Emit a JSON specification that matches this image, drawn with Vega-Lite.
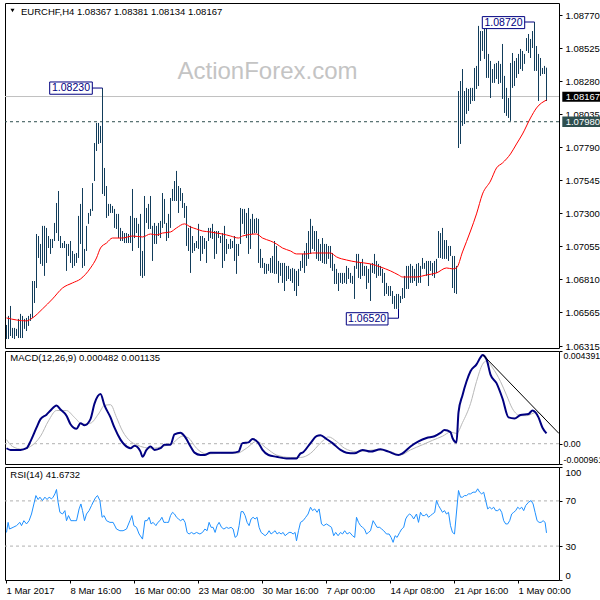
{
"$schema": "https://vega.github.io/schema/vega-lite/v6.json",
"padding": {"left": 2, "top": 2, "right": 0, "bottom": 0},
"background": "white",
"spacing": 3,
"bounds": "flush",
"config": {
  "view": {"stroke": "#000000", "strokeWidth": 1},
  "axis": {"labelFont": "Liberation Sans", "labelFontSize": 9.5, "labelColor": "#000000", "tickColor": "#000000", "domain": false, "grid": false, "title": null, "tickSize": 3, "labelPadding": 3},
  "text": {"font": "Liberation Sans"}
},
"datasets": {
"bars": [
{"i":0,"h":1.06472,"l":1.06368},{"i":1,"h":1.06539,"l":1.06368},{"i":2,"h":1.06613,"l":1.0639},{"i":3,"h":1.0645,"l":1.06375},{"i":4,"h":1.0645,"l":1.06368},{"i":5,"h":1.06443,"l":1.0639},{"i":6,"h":1.06517,"l":1.06375},{"i":7,"h":1.06554,"l":1.06375},{"i":8,"h":1.06539,"l":1.06375},{"i":9,"h":1.06517,"l":1.06443},
{"i":10,"h":1.06524,"l":1.06427},{"i":11,"h":1.06539,"l":1.06465},{"i":12,"h":1.06554,"l":1.06502},{"i":13,"h":1.06798,"l":1.06524},{"i":14,"h":1.06798,"l":1.06635},{"i":15,"h":1.07147,"l":1.06746},{"i":16,"h":1.07132,"l":1.06969},{"i":17,"h":1.07073,"l":1.06925},{"i":18,"h":1.07207,"l":1.0691},{"i":19,"h":1.07207,"l":1.06836},
{"i":20,"h":1.07192,"l":1.06932},{"i":21,"h":1.07132,"l":1.07043},{"i":22,"h":1.0711,"l":1.06999},{"i":23,"h":1.0711,"l":1.07043},{"i":24,"h":1.07229,"l":1.07095},{"i":25,"h":1.07377,"l":1.07154},{"i":26,"h":1.07466,"l":1.07095},{"i":27,"h":1.07132,"l":1.07043},{"i":28,"h":1.0708,"l":1.07043},{"i":29,"h":1.07095,"l":1.07043},
{"i":30,"h":1.07073,"l":1.06873},{"i":31,"h":1.07073,"l":1.06984},{"i":32,"h":1.07095,"l":1.06932},{"i":33,"h":1.07021,"l":1.06895},{"i":34,"h":1.06999,"l":1.0691},{"i":35,"h":1.07006,"l":1.06932},{"i":36,"h":1.07281,"l":1.06969},{"i":37,"h":1.0737,"l":1.07073},{"i":38,"h":1.07488,"l":1.06895},{"i":39,"h":1.07036,"l":1.0691},
{"i":40,"h":1.07207,"l":1.07021},{"i":41,"h":1.07303,"l":1.07222},{"i":42,"h":1.07333,"l":1.07281},{"i":43,"h":1.07525,"l":1.07318},{"i":44,"h":1.07822,"l":1.0754},{"i":45,"h":1.07971,"l":1.07763},{"i":46,"h":1.07971,"l":1.07815},{"i":47,"h":1.07949,"l":1.07822},{"i":48,"h":1.0823,"l":1.07444},{"i":49,"h":1.07637,"l":1.07429},
{"i":50,"h":1.07503,"l":1.07266},{"i":51,"h":1.0737,"l":1.07281},{"i":52,"h":1.0737,"l":1.07303},{"i":53,"h":1.07355,"l":1.07303},{"i":54,"h":1.07333,"l":1.07192},{"i":55,"h":1.07296,"l":1.07184},{"i":56,"h":1.07296,"l":1.07117},{"i":57,"h":1.07192,"l":1.07095},{"i":58,"h":1.07169,"l":1.07095},{"i":59,"h":1.07154,"l":1.0708},
{"i":60,"h":1.07154,"l":1.0708},{"i":61,"h":1.07147,"l":1.0708},{"i":62,"h":1.07281,"l":1.0708},{"i":63,"h":1.07481,"l":1.07021},{"i":64,"h":1.07266,"l":1.07117},{"i":65,"h":1.07266,"l":1.07154},{"i":66,"h":1.07222,"l":1.07043},{"i":67,"h":1.07296,"l":1.06836},{"i":68,"h":1.07021,"l":1.06821},{"i":69,"h":1.07429,"l":1.06836},
{"i":70,"h":1.0734,"l":1.07229},{"i":71,"h":1.0737,"l":1.07184},{"i":72,"h":1.07429,"l":1.07184},{"i":73,"h":1.07207,"l":1.06947},{"i":74,"h":1.07229,"l":1.07073},{"i":75,"h":1.07207,"l":1.07073},{"i":76,"h":1.07229,"l":1.07132},{"i":77,"h":1.07244,"l":1.07117},{"i":78,"h":1.07451,"l":1.07192},{"i":79,"h":1.07407,"l":1.07222},
{"i":80,"h":1.07229,"l":1.07095},{"i":81,"h":1.07296,"l":1.07117},{"i":82,"h":1.07414,"l":1.07192},{"i":83,"h":1.07481,"l":1.07392},{"i":84,"h":1.0754,"l":1.07392},{"i":85,"h":1.07615,"l":1.07392},{"i":86,"h":1.07503,"l":1.07303},{"i":87,"h":1.07488,"l":1.07392},{"i":88,"h":1.07451,"l":1.0734},{"i":89,"h":1.07377,"l":1.07266},
{"i":90,"h":1.07355,"l":1.07058},{"i":91,"h":1.07192,"l":1.07021},{"i":92,"h":1.07207,"l":1.06858},{"i":93,"h":1.07132,"l":1.07006},{"i":94,"h":1.0708,"l":1.07021},{"i":95,"h":1.07095,"l":1.07043},{"i":96,"h":1.07222,"l":1.07036},{"i":97,"h":1.07132,"l":1.06947},{"i":98,"h":1.07132,"l":1.06999},{"i":99,"h":1.07117,"l":1.07036},
{"i":100,"h":1.07095,"l":1.06932},{"i":101,"h":1.07192,"l":1.07095},{"i":102,"h":1.07192,"l":1.07117},{"i":103,"h":1.07222,"l":1.0711},{"i":104,"h":1.07169,"l":1.06962},{"i":105,"h":1.07169,"l":1.06999},{"i":106,"h":1.07169,"l":1.07117},{"i":107,"h":1.07132,"l":1.0708},{"i":108,"h":1.07154,"l":1.06895},{"i":109,"h":1.07207,"l":1.06947},
{"i":110,"h":1.0711,"l":1.06999},{"i":111,"h":1.07073,"l":1.07036},{"i":112,"h":1.0711,"l":1.07036},{"i":113,"h":1.07095,"l":1.07043},{"i":114,"h":1.07132,"l":1.06947},{"i":115,"h":1.07073,"l":1.06851},{"i":116,"h":1.07073,"l":1.06984},{"i":117,"h":1.0734,"l":1.07073},{"i":118,"h":1.07333,"l":1.07222},{"i":119,"h":1.07333,"l":1.07147},
{"i":120,"h":1.07303,"l":1.07117},{"i":121,"h":1.0734,"l":1.06999},{"i":122,"h":1.07259,"l":1.07036},{"i":123,"h":1.07296,"l":1.07147},{"i":124,"h":1.07259,"l":1.07154},{"i":125,"h":1.07266,"l":1.07154},{"i":126,"h":1.07259,"l":1.06932},{"i":127,"h":1.07036,"l":1.06895},{"i":128,"h":1.06969,"l":1.06895},{"i":129,"h":1.06932,"l":1.06851},
{"i":130,"h":1.06925,"l":1.06851},{"i":131,"h":1.06925,"l":1.06873},{"i":132,"h":1.06969,"l":1.06858},{"i":133,"h":1.06984,"l":1.06858},{"i":134,"h":1.07095,"l":1.06851},{"i":135,"h":1.07058,"l":1.06851},{"i":136,"h":1.06947,"l":1.06784},{"i":137,"h":1.06932,"l":1.06836},{"i":138,"h":1.06932,"l":1.06784},{"i":139,"h":1.06932,"l":1.06724},
{"i":140,"h":1.0691,"l":1.06798},{"i":141,"h":1.0691,"l":1.06813},{"i":142,"h":1.06888,"l":1.06798},{"i":143,"h":1.06895,"l":1.06784},{"i":144,"h":1.06888,"l":1.06724},{"i":145,"h":1.06873,"l":1.06687},{"i":146,"h":1.06888,"l":1.06761},{"i":147,"h":1.06947,"l":1.06873},{"i":148,"h":1.06999,"l":1.06895},{"i":149,"h":1.07021,"l":1.06858},
{"i":150,"h":1.0708,"l":1.0691},{"i":151,"h":1.07169,"l":1.06962},{"i":152,"h":1.07259,"l":1.06999},{"i":153,"h":1.07207,"l":1.07036},{"i":154,"h":1.07169,"l":1.07021},{"i":155,"h":1.07169,"l":1.06962},{"i":156,"h":1.0711,"l":1.06947},{"i":157,"h":1.07073,"l":1.06947},{"i":158,"h":1.07117,"l":1.06932},{"i":159,"h":1.07073,"l":1.06925},
{"i":160,"h":1.07073,"l":1.06925},{"i":161,"h":1.07058,"l":1.06962},{"i":162,"h":1.07058,"l":1.06895},{"i":163,"h":1.07006,"l":1.06873},{"i":164,"h":1.06925,"l":1.06776},{"i":165,"h":1.06888,"l":1.06776},{"i":166,"h":1.06858,"l":1.06724},{"i":167,"h":1.06858,"l":1.06784},{"i":168,"h":1.06858,"l":1.06776},{"i":169,"h":1.06858,"l":1.06784},
{"i":170,"h":1.0691,"l":1.06776},{"i":171,"h":1.06895,"l":1.06813},{"i":172,"h":1.06858,"l":1.06784},{"i":173,"h":1.06836,"l":1.06776},{"i":174,"h":1.0691,"l":1.06665},{"i":175,"h":1.06999,"l":1.06888},{"i":176,"h":1.06999,"l":1.06821},{"i":177,"h":1.06932,"l":1.06813},{"i":178,"h":1.06962,"l":1.06836},{"i":179,"h":1.0691,"l":1.06836},
{"i":180,"h":1.0691,"l":1.06739},{"i":181,"h":1.06888,"l":1.06784},{"i":182,"h":1.06925,"l":1.0665},{"i":183,"h":1.06932,"l":1.06858},{"i":184,"h":1.06999,"l":1.06851},{"i":185,"h":1.06947,"l":1.06821},{"i":186,"h":1.06925,"l":1.06836},{"i":187,"h":1.0691,"l":1.06836},{"i":188,"h":1.06888,"l":1.06784},{"i":189,"h":1.06858,"l":1.06687},
{"i":190,"h":1.06784,"l":1.06702},{"i":191,"h":1.06761,"l":1.06687},{"i":192,"h":1.06761,"l":1.06687},{"i":193,"h":1.06724,"l":1.06628},{"i":194,"h":1.06687,"l":1.06591},{"i":195,"h":1.06702,"l":1.06591},{"i":196,"h":1.06702,"l":1.06591},{"i":197,"h":1.06687,"l":1.06635},{"i":198,"h":1.06746,"l":1.06665},{"i":199,"h":1.06836,"l":1.06672},
{"i":200,"h":1.0691,"l":1.06739},{"i":201,"h":1.0691,"l":1.06739},{"i":202,"h":1.06925,"l":1.06784},{"i":203,"h":1.0691,"l":1.06784},{"i":204,"h":1.06888,"l":1.06798},{"i":205,"h":1.06925,"l":1.06761},{"i":206,"h":1.06932,"l":1.06784},{"i":207,"h":1.0691,"l":1.06784},{"i":208,"h":1.06969,"l":1.06888},{"i":209,"h":1.06932,"l":1.06888},
{"i":210,"h":1.06947,"l":1.06836},{"i":211,"h":1.06947,"l":1.06761},{"i":212,"h":1.06947,"l":1.06873},{"i":213,"h":1.06932,"l":1.06836},{"i":214,"h":1.06947,"l":1.06821},{"i":215,"h":1.06962,"l":1.06858},{"i":216,"h":1.07169,"l":1.06969},{"i":217,"h":1.07154,"l":1.06969},{"i":218,"h":1.07192,"l":1.06962},{"i":219,"h":1.07102,"l":1.06962},
{"i":220,"h":1.07102,"l":1.06962},{"i":221,"h":1.07058,"l":1.06947},{"i":222,"h":1.07058,"l":1.06984},{"i":223,"h":1.06984,"l":1.06746},{"i":224,"h":1.06984,"l":1.06709},{"i":225,"h":1.0691,"l":1.06702},{"i":226,"h":1.08208,"l":1.07785},{"i":227,"h":1.08282,"l":1.07815},{"i":228,"h":1.08371,"l":1.07949},{"i":229,"h":1.08208,"l":1.07963},
{"i":230,"h":1.08231,"l":1.08038},{"i":231,"h":1.08223,"l":1.0806},{"i":232,"h":1.08231,"l":1.08112},{"i":233,"h":1.08231,"l":1.08134},{"i":234,"h":1.08379,"l":1.08134},{"i":235,"h":1.08394,"l":1.08223},{"i":236,"h":1.08691,"l":1.08245},{"i":237,"h":1.08653,"l":1.08431},{"i":238,"h":1.08653,"l":1.08505},{"i":239,"h":1.08668,"l":1.08446},
{"i":240,"h":1.08691,"l":1.08305},{"i":241,"h":1.08483,"l":1.08305},{"i":242,"h":1.08431,"l":1.08156},{"i":243,"h":1.08371,"l":1.08268},{"i":244,"h":1.08409,"l":1.08268},{"i":245,"h":1.08416,"l":1.08297},{"i":246,"h":1.08431,"l":1.0826},{"i":247,"h":1.08409,"l":1.08268},{"i":248,"h":1.08557,"l":1.08149},{"i":249,"h":1.0832,"l":1.08045},
{"i":250,"h":1.08231,"l":1.08023},{"i":251,"h":1.08156,"l":1.08008},{"i":252,"h":1.08416,"l":1.07986},{"i":253,"h":1.0849,"l":1.08231},{"i":254,"h":1.08431,"l":1.08245},{"i":255,"h":1.08453,"l":1.08305},{"i":256,"h":1.08483,"l":1.08334},{"i":257,"h":1.0852,"l":1.08371},{"i":258,"h":1.08505,"l":1.08357},{"i":259,"h":1.08483,"l":1.08409},
{"i":260,"h":1.08601,"l":1.08505},{"i":261,"h":1.08631,"l":1.0849},{"i":262,"h":1.08594,"l":1.08453},{"i":263,"h":1.08653,"l":1.08527},{"i":264,"h":1.0872,"l":1.08357},{"i":265,"h":1.08542,"l":1.08357},{"i":266,"h":1.08483,"l":1.08134},{"i":267,"h":1.08453,"l":1.0832},{"i":268,"h":1.08379,"l":1.08334},{"i":269,"h":1.08394,"l":1.08334},
{"i":270,"h":1.08381,"l":1.08134}
],
"ma": [
{"i":0,"p":1.06524},{"i":5,"p":1.06509},{"i":10,"p":1.06502},{"i":13,"p":1.06524},{"i":18,"p":1.06591},{"i":23,"p":1.06665},{"i":28,"p":1.06746},{"i":33,"p":1.06784},{"i":37,"p":1.06813},{"i":42,"p":1.06895},{"i":45,"p":1.06969},{"i":47,"p":1.07043},{"i":50,"p":1.0708},{"i":53,"p":1.07117},{"i":58,"p":1.07117},{"i":63,"p":1.07132},{"i":68,"p":1.07125},{"i":72,"p":1.07147},{"i":75,"p":1.0714},{"i":78,"p":1.07154},{"i":82,"p":1.07162},{"i":85,"p":1.07192},{"i":89,"p":1.07222},{"i":92,"p":1.07199},{"i":95,"p":1.07184},{"i":98,"p":1.07169},{"i":102,"p":1.07162},{"i":105,"p":1.07154},{"i":108,"p":1.07147},{"i":112,"p":1.07132},{"i":116,"p":1.07117},{"i":118,"p":1.07132},{"i":125,"p":1.07147},{"i":128,"p":1.07117},{"i":132,"p":1.07095},{"i":135,"p":1.07073},{"i":138,"p":1.07043},{"i":142,"p":1.07021},{"i":145,"p":1.06999},{"i":150,"p":1.06999},{"i":153,"p":1.07006},{"i":158,"p":1.07006},{"i":162,"p":1.07006},{"i":165,"p":1.06977},{"i":170,"p":1.06954},{"i":175,"p":1.06939},{"i":182,"p":1.06925},{"i":187,"p":1.06902},{"i":192,"p":1.06873},{"i":196,"p":1.06843},{"i":198,"p":1.06828},{"i":205,"p":1.06828},{"i":210,"p":1.06843},{"i":215,"p":1.06858},{"i":220,"p":1.06895},{"i":223,"p":1.06888},{"i":225,"p":1.06895},{"i":228,"p":1.07014},{"i":232,"p":1.07169},{"i":235,"p":1.07296},{"i":238,"p":1.07444},{"i":242,"p":1.0754},{"i":245,"p":1.07637},{"i":248,"p":1.07674},{"i":252,"p":1.07741},{"i":255,"p":1.07815},{"i":258,"p":1.07889},{"i":262,"p":1.08008},{"i":265,"p":1.08082},{"i":270,"p":1.08141}
],
"macd": [
{"i":0,"m":-0.000214},{"i":2,"m":-0.000292},{"i":7,"m":-0.000292},{"i":10,"m":-0.000214},{"i":12,"m":0.000112},{"i":15,"m":0.000759},{"i":17,"m":0.001167},{"i":20,"m":0.001376},{"i":22,"m":0.001571},{"i":25,"m":0.001814},{"i":27,"m":0.001619},{"i":30,"m":0.001328},{"i":32,"m":0.000924},{"i":35,"m":0.00071},{"i":37,"m":0.000973},{"i":39,"m":0.000875},{"i":42,"m":0.001167},{"i":44,"m":0.001897},{"i":47,"m":0.002349},{"i":49,"m":0.001814},{"i":52,"m":0.001245},{"i":54,"m":0.000759},{"i":57,"m":0.000195},{"i":59,"m":-0.000049},{"i":62,"m":-0.000214},{"i":64,"m":-0.000097},{"i":67,"m":-0.000374},{"i":68,"m":-0.000618},{"i":70,"m":-0.000292},{"i":72,"m":-0.000131},{"i":74,"m":-0.000292},{"i":77,"m":-0.000214},{"i":79,"m":-0.000049},{"i":82,"m":-0.000049},{"i":84,"m":0.000438},{"i":87,"m":0.000515},{"i":89,"m":0.000355},{"i":92,"m":-0.000131},{"i":94,"m":-0.000423},{"i":97,"m":-0.000535},{"i":99,"m":-0.000535},{"i":102,"m":-0.000423},{"i":107,"m":-0.000423},{"i":113,"m":-0.000423},{"i":116,"m":-0.000374},{"i":118,"m":0.000029},{"i":121,"m":0.000063},{"i":123,"m":0.000224},{"i":126,"m":0.000029},{"i":128,"m":-0.000292},{"i":131,"m":-0.000535},{"i":135,"m":-0.000618},{"i":140,"m":-0.0007},{"i":145,"m":-0.0007},{"i":147,"m":-0.000457},{"i":148,"m":-0.000423},{"i":152,"m":0.000029},{"i":155,"m":0.000355},{"i":157,"m":0.000404},{"i":160,"m":0.000224},{"i":163,"m":0.000029},{"i":167,"m":-0.000292},{"i":170,"m":-0.000423},{"i":174,"m":-0.000457},{"i":178,"m":-0.000292},{"i":182,"m":-0.000374},{"i":187,"m":-0.000263},{"i":191,"m":-0.000374},{"i":196,"m":-0.000535},{"i":198,"m":-0.000457},{"i":202,"m":-0.000131},{"i":206,"m":0.000112},{"i":210,"m":0.000272},{"i":214,"m":0.000355},{"i":217,"m":0.000515},{"i":219,"m":0.000647},{"i":222,"m":0.00055},{"i":223,"m":0.000272},{"i":225,"m":0.000063},{"i":226,"m":0.001488},{"i":228,"m":0.0023},{"i":230,"m":0.002947},{"i":232,"m":0.003433},{"i":235,"m":0.003759},{"i":237,"m":0.004085},{"i":238,"m":0.004197},{"i":240,"m":0.004002},{"i":242,"m":0.003273},{"i":245,"m":0.002869},{"i":248,"m":0.00214},{"i":251,"m":0.001245},{"i":254,"m":0.001196},{"i":257,"m":0.001362},{"i":261,"m":0.00141},{"i":263,"m":0.001571},{"i":266,"m":0.001245},{"i":268,"m":0.000759},{"i":270,"m":0.000486}
],
"sig": [
{"i":0,"s":0.000195},{"i":3,"s":-0.000131},{"i":8,"s":-0.000263},{"i":12,"s":-0.000131},{"i":17,"s":0.000355},{"i":21,"s":0.001084},{"i":25,"s":0.001571},{"i":30,"s":0.001571},{"i":34,"s":0.001245},{"i":38,"s":0.000924},{"i":42,"s":0.000973},{"i":46,"s":0.00141},{"i":49,"s":0.001814},{"i":52,"s":0.001848},{"i":55,"s":0.001245},{"i":58,"s":0.000598},{"i":62,"s":0.000112},{"i":65,"s":-0.000049},{"i":69,"s":-0.00018},{"i":73,"s":-0.000214},{"i":78,"s":-0.000131},{"i":83,"s":0.000029},{"i":88,"s":0.000355},{"i":91,"s":0.000272},{"i":95,"s":-0.000214},{"i":100,"s":-0.000486},{"i":107,"s":-0.000457},{"i":115,"s":-0.000457},{"i":120,"s":-0.000214},{"i":125,"s":0.000112},{"i":130,"s":-0.000214},{"i":135,"s":-0.000535},{"i":142,"s":-0.000652},{"i":147,"s":-0.000652},{"i":152,"s":-0.000457},{"i":157,"s":0.000029},{"i":161,"s":0.000321},{"i":165,"s":0.000112},{"i":169,"s":-0.000214},{"i":175,"s":-0.000374},{"i":185,"s":-0.000292},{"i":192,"s":-0.000374},{"i":197,"s":-0.000535},{"i":202,"s":-0.000292},{"i":208,"s":-0.000049},{"i":213,"s":0.00016},{"i":218,"s":0.000355},{"i":222,"s":0.00055},{"i":225,"s":0.000486},{"i":228,"s":0.001002},{"i":232,"s":0.001897},{"i":235,"s":0.002947},{"i":238,"s":0.003759},{"i":240,"s":0.00392},{"i":243,"s":0.003599},{"i":247,"s":0.002947},{"i":250,"s":0.0023},{"i":253,"s":0.001653},{"i":257,"s":0.001328},{"i":260,"s":0.001328},{"i":265,"s":0.001488},{"i":269,"s":0.001196}
],
"rsi": [
{"i":0,"r":42.1},{"i":0.8,"r":51},{"i":1.5,"r":45.1},{"i":3.3,"r":46.6},{"i":5,"r":48.1},{"i":6.7,"r":51},{"i":7.5,"r":48.1},{"i":8.7,"r":52.5},{"i":10,"r":49.6},{"i":11.3,"r":52.5},{"i":12.5,"r":58.4},{"i":13.7,"r":67.3},{"i":14.7,"r":74.7},{"i":15.8,"r":71.2},{"i":16.7,"r":73.3},{"i":18,"r":70.3},{"i":19.2,"r":73.3},{"i":20.3,"r":71.2},{"i":21.3,"r":73.3},{"i":22.5,"r":71.8},{"i":23.3,"r":73.3},{"i":24.2,"r":76.2},{"i":25,"r":80.1},{"i":25.8,"r":68.8},{"i":26.7,"r":59.9},{"i":28,"r":58.4},{"i":29.2,"r":61.4},{"i":30,"r":52.5},{"i":31,"r":57},{"i":32.2,"r":52.5},{"i":34.2,"r":52.5},{"i":35,"r":52.5},{"i":36.3,"r":62.9},{"i":37.2,"r":67.3},{"i":38,"r":61.4},{"i":39,"r":52.5},{"i":40,"r":58.4},{"i":41.3,"r":61.4},{"i":42.5,"r":65.9},{"i":43.7,"r":70.3},{"i":44.7,"r":73.3},{"i":45.5,"r":74.7},{"i":46.7,"r":70.3},{"i":47.8,"r":55.5},{"i":48.8,"r":57},{"i":50,"r":52.5},{"i":51.7,"r":51},{"i":53.3,"r":51},{"i":55,"r":45.1},{"i":56.7,"r":43.6},{"i":58.3,"r":43.6},{"i":60,"r":45.1},{"i":61.7,"r":52.5},{"i":62.7,"r":57},{"i":63.7,"r":48.1},{"i":65,"r":46.6},{"i":66.3,"r":40.7},{"i":68,"r":36.2},{"i":69.2,"r":52.5},{"i":70.3,"r":52.5},{"i":71.3,"r":55.5},{"i":72.3,"r":49.6},{"i":73.3,"r":51},{"i":74.7,"r":48.1},{"i":75.7,"r":51},{"i":76.7,"r":52.5},{"i":77.7,"r":55.5},{"i":78.7,"r":51},{"i":80,"r":51},{"i":81,"r":51},{"i":82,"r":57},{"i":83,"r":59.9},{"i":84,"r":58.4},{"i":85,"r":55.5},{"i":86,"r":54},{"i":87,"r":52.5},{"i":88.3,"r":54},{"i":89.3,"r":51},{"i":90.3,"r":42.1},{"i":91.3,"r":40.7},{"i":92.5,"r":42.1},{"i":93.7,"r":40.7},{"i":95,"r":42.1},{"i":96.7,"r":40.7},{"i":98,"r":42.1},{"i":99.2,"r":45.1},{"i":100.3,"r":43.6},{"i":101.3,"r":51},{"i":102.3,"r":46.6},{"i":103.3,"r":46.6},{"i":104.3,"r":42.1},{"i":105.3,"r":48.1},{"i":106.3,"r":51},{"i":107.5,"r":46.6},{"i":108.7,"r":45.1},{"i":110,"r":46.6},{"i":111,"r":45.7},{"i":112.3,"r":46.6},{"i":113.3,"r":45.1},{"i":114.3,"r":37.7},{"i":115.3,"r":39.2},{"i":116.3,"r":48.1},{"i":117.3,"r":60.5},{"i":118.3,"r":60.5},{"i":119.3,"r":57},{"i":120.3,"r":51},{"i":121.3,"r":48.1},{"i":122.3,"r":54},{"i":123.3,"r":55.5},{"i":124.3,"r":54},{"i":125.3,"r":55.5},{"i":126.3,"r":46.6},{"i":127.3,"r":42.1},{"i":128.3,"r":40.7},{"i":129.3,"r":39.2},{"i":130.3,"r":40.7},{"i":131.3,"r":43.6},{"i":132.3,"r":40.7},{"i":133.3,"r":42.1},{"i":134.3,"r":43.6},{"i":135.3,"r":40.7},{"i":136.3,"r":42.1},{"i":137.3,"r":40.7},{"i":138.3,"r":42.1},{"i":139.3,"r":39.2},{"i":140.3,"r":40.7},{"i":141.3,"r":42.1},{"i":142.3,"r":42.1},{"i":143.3,"r":40.7},{"i":144.3,"r":42.1},{"i":145,"r":34.7},{"i":146,"r":43.6},{"i":147,"r":51},{"i":148.3,"r":52.5},{"i":149.6,"r":55.5},{"i":150.8,"r":58.4},{"i":152,"r":64.4},{"i":153,"r":61.4},{"i":154.1,"r":62.9},{"i":155.3,"r":59.9},{"i":156.3,"r":62.9},{"i":157.5,"r":49.6},{"i":158.6,"r":48.1},{"i":160,"r":49.6},{"i":161.3,"r":48.1},{"i":162.5,"r":46.6},{"i":163.6,"r":39.2},{"i":164.6,"r":42.1},{"i":165.8,"r":39.2},{"i":167,"r":42.1},{"i":168,"r":40.7},{"i":169.1,"r":43.6},{"i":170.3,"r":40.7},{"i":171.6,"r":42.1},{"i":173,"r":39.2},{"i":174.1,"r":37.7},{"i":175,"r":55.5},{"i":176,"r":51},{"i":177,"r":48.1},{"i":178,"r":46.6},{"i":179,"r":45.1},{"i":180,"r":40.7},{"i":181,"r":42.1},{"i":182,"r":43.6},{"i":183.3,"r":52.5},{"i":184.3,"r":49.6},{"i":185.3,"r":46.6},{"i":186.6,"r":46.6},{"i":187.6,"r":45.1},{"i":188.6,"r":43.6},{"i":190,"r":40.7},{"i":191.3,"r":40.7},{"i":192.3,"r":37.7},{"i":193.3,"r":33.3},{"i":194.3,"r":39.2},{"i":195.3,"r":37.7},{"i":196.6,"r":42.1},{"i":197.6,"r":45.1},{"i":198.6,"r":46.6},{"i":199.6,"r":54},{"i":200.6,"r":57},{"i":201.6,"r":58.4},{"i":202.6,"r":57},{"i":203.6,"r":54},{"i":205,"r":58.4},{"i":206,"r":51},{"i":207,"r":59.9},{"i":208,"r":57},{"i":209,"r":57},{"i":210,"r":58.4},{"i":211,"r":55.5},{"i":212,"r":57},{"i":213,"r":58.4},{"i":214.1,"r":59.9},{"i":215,"r":70.3},{"i":216,"r":65.9},{"i":217,"r":62.9},{"i":218,"r":59.9},{"i":219,"r":61.4},{"i":220,"r":58.4},{"i":221,"r":59.9},{"i":222,"r":48.1},{"i":223,"r":42.1},{"i":224,"r":40.7},{"i":226,"r":79.2},{"i":227,"r":73.3},{"i":228,"r":73.3},{"i":229,"r":74.7},{"i":230,"r":74.7},{"i":231,"r":76.2},{"i":232,"r":76.2},{"i":233.3,"r":77.7},{"i":234.6,"r":77.7},{"i":235.6,"r":80.7},{"i":236.6,"r":77.7},{"i":237.6,"r":76.2},{"i":238.6,"r":77.7},{"i":239.6,"r":70.3},{"i":240.6,"r":62.9},{"i":241.6,"r":64.4},{"i":242.6,"r":62.9},{"i":243.6,"r":64.4},{"i":244.6,"r":61.4},{"i":245.6,"r":61.4},{"i":246.6,"r":62.9},{"i":247.6,"r":59.9},{"i":248.6,"r":52.5},{"i":249.6,"r":49.6},{"i":250.6,"r":49.6},{"i":251.6,"r":52.5},{"i":252.6,"r":58.4},{"i":253.6,"r":59.9},{"i":254.6,"r":61.4},{"i":255.6,"r":64.4},{"i":256.6,"r":62.9},{"i":257.6,"r":64.4},{"i":258.6,"r":61.4},{"i":259.6,"r":65.9},{"i":261,"r":68.8},{"i":262.3,"r":70.3},{"i":263.3,"r":67.3},{"i":264.3,"r":59.9},{"i":265.3,"r":52.5},{"i":266.3,"r":51},{"i":267.3,"r":51},{"i":268.3,"r":52.5},{"i":269.3,"r":51},{"i":270,"r":41.7}
],
"boxes": [
{"i":21.6,"i2":42.9,"p":1.08275,"p2":1.08184,"c":32.25,"pc":1.0823,"t":"1.08230"},
{"i":169.9,"i2":190.75,"p":1.06563,"p2":1.06472,"c":180.3,"pc":1.06518,"t":"1.06520"},
{"i":237.9,"i2":259.1,"p":1.0876,"p2":1.08671,"c":248.5,"pc":1.08716,"t":"1.08720"}
],
"conn": [
{"i":42.9,"i2":48,"p":1.0823,"p2":1.0823},
{"i":190.75,"i2":196,"p":1.06522,"p2":1.06522},
{"i":196,"i2":196,"p":1.06522,"p2":1.06591},
{"i":259.1,"i2":264,"p":1.0872,"p2":1.0872}
],
"hl": [
{"i":277.9,"i2":298.25,"p":1.08203,"p2":1.08129,"bg":"#000000","tx":279.6,"pc":1.08166,"t":"1.08167"},
{"i":277.9,"i2":298.25,"p":1.08018,"p2":1.07941,"bg":"#2F4F4F","tx":279.6,"pc":1.07979,"t":"1.07980"}
]
},
"vconcat": [
{
"width": 554, "height": 345,
"layer": [
{"data": {"values": [{"p": 1.0798}]}, "mark": {"type": "rule", "color": "#2F4F4F", "strokeDash": [3, 3], "strokeWidth": 1},
 "encoding": {"y": {"field": "p", "type": "quantitative", "scale": {"domain": [1.06301, 1.08861], "nice": false, "zero": false},
   "axis": {"orient": "right", "values": [1.0877, 1.08525, 1.0828, 1.08035, 1.0779, 1.07545, 1.073, 1.07055, 1.0681, 1.06565, 1.06315], "format": ".5f", "labelOverlap": false, "labelBound": false, "labelFlush": false}}}},
{"data": {"values": [{"p": 1.08167}]}, "mark": {"type": "rule", "color": "#C0C0C0", "strokeWidth": 1},
 "encoding": {"y": {"field": "p", "type": "quantitative", "scale": {"domain": [1.06301, 1.08861], "nice": false, "zero": false},
   "axis": {"orient": "right", "values": [1.0877, 1.08525, 1.0828, 1.08035, 1.0779, 1.07545, 1.073, 1.07055, 1.0681, 1.06565, 1.06315], "format": ".5f", "labelOverlap": false, "labelBound": false, "labelFlush": false}}}},
{"data": {"name": "bars"}, "mark": {"type": "rule", "color": "#123D5B", "strokeWidth": 1},
 "encoding": {
  "x": {"field": "i", "type": "quantitative", "scale": {"domain": [-0.75, 276.25], "nice": false, "zero": false}, "axis": null},
  "y": {"field": "l", "type": "quantitative", "scale": {"domain": [1.06301, 1.08861], "nice": false, "zero": false},
        "axis": {"orient": "right", "values": [1.0877, 1.08525, 1.0828, 1.08035, 1.0779, 1.07545, 1.073, 1.07055, 1.0681, 1.06565, 1.06315], "format": ".5f", "labelOverlap": false, "labelBound": false, "labelFlush": false}},
  "y2": {"field": "h"}}},
{"data": {"name": "ma"}, "mark": {"type": "line", "color": "#FF0000", "strokeWidth": 1, "interpolate": "monotone"},
 "encoding": {
  "x": {"field": "i", "type": "quantitative", "scale": {"domain": [-0.75, 276.25], "nice": false, "zero": false}, "axis": null},
  "y": {"field": "p", "type": "quantitative", "scale": {"domain": [1.06301, 1.08861], "nice": false, "zero": false},
        "axis": {"orient": "right", "values": [1.0877, 1.08525, 1.0828, 1.08035, 1.0779, 1.07545, 1.073, 1.07055, 1.0681, 1.06565, 1.06315], "format": ".5f", "labelOverlap": false, "labelBound": false, "labelFlush": false}}}},
{"data": {"name": "boxes"}, "mark": {"type": "rect", "fill": "#FFFFFF", "stroke": "#000080", "strokeWidth": 1},
 "encoding": {
  "x": {"field": "i", "type": "quantitative", "scale": {"domain": [-0.75, 276.25], "nice": false, "zero": false}, "axis": null},
  "x2": {"field": "i2"},
  "y": {"field": "p", "type": "quantitative", "scale": {"domain": [1.06301, 1.08861], "nice": false, "zero": false},
        "axis": {"orient": "right", "values": [1.0877, 1.08525, 1.0828, 1.08035, 1.0779, 1.07545, 1.073, 1.07055, 1.0681, 1.06565, 1.06315], "format": ".5f", "labelOverlap": false, "labelBound": false, "labelFlush": false}},
  "y2": {"field": "p2"}}},
{"data": {"name": "conn"}, "mark": {"type": "rule", "color": "#000080", "strokeWidth": 1},
 "encoding": {
  "x": {"field": "i", "type": "quantitative", "scale": {"domain": [-0.75, 276.25], "nice": false, "zero": false}, "axis": null},
  "x2": {"field": "i2"},
  "y": {"field": "p", "type": "quantitative", "scale": {"domain": [1.06301, 1.08861], "nice": false, "zero": false},
        "axis": {"orient": "right", "values": [1.0877, 1.08525, 1.0828, 1.08035, 1.0779, 1.07545, 1.073, 1.07055, 1.0681, 1.06565, 1.06315], "format": ".5f", "labelOverlap": false, "labelBound": false, "labelFlush": false}},
  "y2": {"field": "p2"}}},
{"data": {"name": "boxes"}, "mark": {"type": "text", "color": "#000080", "fontSize": 10.5, "font": "Liberation Sans"},
 "encoding": {
  "x": {"field": "c", "type": "quantitative", "scale": {"domain": [-0.75, 276.25], "nice": false, "zero": false}, "axis": null},
  "y": {"field": "pc", "type": "quantitative", "scale": {"domain": [1.06301, 1.08861], "nice": false, "zero": false},
        "axis": {"orient": "right", "values": [1.0877, 1.08525, 1.0828, 1.08035, 1.0779, 1.07545, 1.073, 1.07055, 1.0681, 1.06565, 1.06315], "format": ".5f", "labelOverlap": false, "labelBound": false, "labelFlush": false}},
  "text": {"field": "t"}}},
{"data": {"values": [{"i": 130.5, "p": 1.08349, "t": "ActionForex.com"}]}, "mark": {"type": "text", "color": "#C4C4C4", "fontSize": 24, "font": "Liberation Sans"},
 "encoding": {
  "x": {"field": "i", "type": "quantitative", "scale": {"domain": [-0.75, 276.25], "nice": false, "zero": false}, "axis": null},
  "y": {"field": "p", "type": "quantitative", "scale": {"domain": [1.06301, 1.08861], "nice": false, "zero": false},
        "axis": {"orient": "right", "values": [1.0877, 1.08525, 1.0828, 1.08035, 1.0779, 1.07545, 1.073, 1.07055, 1.0681, 1.06565, 1.06315], "format": ".5f", "labelOverlap": false, "labelBound": false, "labelFlush": false}},
  "text": {"field": "t"}}},
{"data": {"values": [{"i": 7.25, "p": 1.08797, "t": "EURCHF,H4  1.08367 1.08381 1.08134 1.08167"}]}, "mark": {"type": "text", "color": "#000000", "fontSize": 9.5, "font": "Liberation Sans", "align": "left"},
 "encoding": {
  "x": {"field": "i", "type": "quantitative", "scale": {"domain": [-0.75, 276.25], "nice": false, "zero": false}, "axis": null},
  "y": {"field": "p", "type": "quantitative", "scale": {"domain": [1.06301, 1.08861], "nice": false, "zero": false},
        "axis": {"orient": "right", "values": [1.0877, 1.08525, 1.0828, 1.08035, 1.0779, 1.07545, 1.073, 1.07055, 1.0681, 1.06565, 1.06315], "format": ".5f", "labelOverlap": false, "labelBound": false, "labelFlush": false}},
  "text": {"field": "t"}}},
{"data": {"values": [{"i": 3, "p": 1.08805}]}, "mark": {"type": "point", "shape": "triangle-down", "filled": true, "size": 16, "color": "#000000", "opacity": 1},
 "encoding": {
  "x": {"field": "i", "type": "quantitative", "scale": {"domain": [-0.75, 276.25], "nice": false, "zero": false}, "axis": null},
  "y": {"field": "p", "type": "quantitative", "scale": {"domain": [1.06301, 1.08861], "nice": false, "zero": false},
        "axis": {"orient": "right", "values": [1.0877, 1.08525, 1.0828, 1.08035, 1.0779, 1.07545, 1.073, 1.07055, 1.0681, 1.06565, 1.06315], "format": ".5f", "labelOverlap": false, "labelBound": false, "labelFlush": false}}}},
{"data": {"name": "hl"}, "mark": {"type": "rect", "strokeWidth": 0},
 "encoding": {
  "x": {"field": "i", "type": "quantitative", "scale": {"domain": [-0.75, 276.25], "nice": false, "zero": false}, "axis": null},
  "x2": {"field": "i2"},
  "y": {"field": "p", "type": "quantitative", "scale": {"domain": [1.06301, 1.08861], "nice": false, "zero": false},
        "axis": {"orient": "right", "values": [1.0877, 1.08525, 1.0828, 1.08035, 1.0779, 1.07545, 1.073, 1.07055, 1.0681, 1.06565, 1.06315], "format": ".5f", "labelOverlap": false, "labelBound": false, "labelFlush": false}},
  "y2": {"field": "p2"},
  "fill": {"field": "bg", "type": "nominal", "scale": null}}},
{"data": {"name": "hl"}, "mark": {"type": "text", "color": "#FFFFFF", "fontSize": 9.5, "font": "Liberation Sans", "align": "left"},
 "encoding": {
  "x": {"field": "tx", "type": "quantitative", "scale": {"domain": [-0.75, 276.25], "nice": false, "zero": false}, "axis": null},
  "y": {"field": "pc", "type": "quantitative", "scale": {"domain": [1.06301, 1.08861], "nice": false, "zero": false},
        "axis": {"orient": "right", "values": [1.0877, 1.08525, 1.0828, 1.08035, 1.0779, 1.07545, 1.073, 1.07055, 1.0681, 1.06565, 1.06315], "format": ".5f", "labelOverlap": false, "labelBound": false, "labelFlush": false}},
  "text": {"field": "t"}}}
]
},
{
"width": 554, "height": 113,
"layer": [
{"data": {"values": [{"m": 0}]}, "mark": {"type": "rule", "color": "#B0B0B0", "strokeDash": [3, 3], "strokeWidth": 1},
 "encoding": {"y": {"field": "m", "type": "quantitative", "scale": {"domain": [-0.000961, 0.004391], "nice": false, "zero": false},
   "axis": {"orient": "right", "values": [-0.000961, 0, 0.004391], "labelExpr": "datum.value == 0 ? '0.00' : (datum.value < 0 ? '-0.000961' : '0.004391')", "labelFlush": true, "labelOverlap": false, "labelBound": false, "labelFontSize": 8.8, "labelPadding": 1}}}},
{"data": {"name": "sig"}, "mark": {"type": "line", "color": "#B8B8B8", "strokeWidth": 1, "interpolate": "monotone"},
 "encoding": {
  "x": {"field": "i", "type": "quantitative", "scale": {"domain": [-0.75, 276.25], "nice": false, "zero": false}, "axis": null},
  "y": {"field": "s", "type": "quantitative", "scale": {"domain": [-0.000961, 0.004391], "nice": false, "zero": false},
   "axis": {"orient": "right", "values": [-0.000961, 0, 0.004391], "labelExpr": "datum.value == 0 ? '0.00' : (datum.value < 0 ? '-0.000961' : '0.004391')", "labelFlush": true, "labelOverlap": false, "labelBound": false, "labelFontSize": 8.8, "labelPadding": 1}}}},
{"data": {"name": "macd"}, "mark": {"type": "line", "color": "#000080", "strokeWidth": 2, "interpolate": "monotone"},
 "encoding": {
  "x": {"field": "i", "type": "quantitative", "scale": {"domain": [-0.75, 276.25], "nice": false, "zero": false}, "axis": null},
  "y": {"field": "m", "type": "quantitative", "scale": {"domain": [-0.000961, 0.004391], "nice": false, "zero": false},
   "axis": {"orient": "right", "values": [-0.000961, 0, 0.004391], "labelExpr": "datum.value == 0 ? '0.00' : (datum.value < 0 ? '-0.000961' : '0.004391')", "labelFlush": true, "labelOverlap": false, "labelBound": false, "labelFontSize": 8.8, "labelPadding": 1}}}},
{"data": {"values": [{"i": 238.3, "m": 0.0042}, {"i": 276.25, "m": 0.000484}]}, "mark": {"type": "line", "color": "#000000", "strokeWidth": 1},
 "encoding": {
  "x": {"field": "i", "type": "quantitative", "scale": {"domain": [-0.75, 276.25], "nice": false, "zero": false}, "axis": null},
  "y": {"field": "m", "type": "quantitative", "scale": {"domain": [-0.000961, 0.004391], "nice": false, "zero": false},
   "axis": {"orient": "right", "values": [-0.000961, 0, 0.004391], "labelExpr": "datum.value == 0 ? '0.00' : (datum.value < 0 ? '-0.000961' : '0.004391')", "labelFlush": true, "labelOverlap": false, "labelBound": false, "labelFontSize": 8.8, "labelPadding": 1}}}},
{"data": {"values": [{"i": 1.9, "m": 0.00405, "t": "MACD(12,26,9) 0.000482 0.001135"}]}, "mark": {"type": "text", "color": "#000000", "fontSize": 9.5, "font": "Liberation Sans", "align": "left"},
 "encoding": {
  "x": {"field": "i", "type": "quantitative", "scale": {"domain": [-0.75, 276.25], "nice": false, "zero": false}, "axis": null},
  "y": {"field": "m", "type": "quantitative", "scale": {"domain": [-0.000961, 0.004391], "nice": false, "zero": false},
   "axis": {"orient": "right", "values": [-0.000961, 0, 0.004391], "labelExpr": "datum.value == 0 ? '0.00' : (datum.value < 0 ? '-0.000961' : '0.004391')", "labelFlush": true, "labelOverlap": false, "labelBound": false, "labelFontSize": 8.8, "labelPadding": 1}},
  "text": {"field": "t"}}}
]
},
{
"width": 554, "height": 113,
"layer": [
{"data": {"values": [{"r": 30}, {"r": 70}]}, "mark": {"type": "rule", "color": "#B0B0B0", "strokeDash": [3, 3], "strokeWidth": 1},
 "encoding": {"y": {"field": "r", "type": "quantitative", "scale": {"domain": [0, 100], "nice": false, "zero": false},
   "axis": {"orient": "right", "values": [0, 30, 70, 100], "labelFlush": true, "labelOverlap": false, "labelBound": false}}}},
{"data": {"name": "rsi"}, "mark": {"type": "line", "color": "#1E90FF", "strokeWidth": 1},
 "encoding": {
  "x": {"field": "i", "type": "quantitative", "scale": {"domain": [-0.75, 276.25], "nice": false, "zero": false},
        "axis": {"orient": "bottom", "values": [-0.25, 31.75, 63.75, 95.75, 127.75, 159.75, 191.75, 223.75, 255.75], "labelExpr": "['1 Mar 2017','8 Mar 16:00','16 Mar 00:00','23 Mar 08:00','30 Mar 16:00','7 Apr 00:00','14 Apr 08:00','21 Apr 16:00','1 May 00:00'][round((datum.value + 0.25) / 32)]", "labelAlign": "left", "labelFlush": false, "labelOverlap": false, "labelBound": false, "tickSize": 3, "labelPadding": 2}},
  "y": {"field": "r", "type": "quantitative", "scale": {"domain": [0, 100], "nice": false, "zero": false},
        "axis": {"orient": "right", "values": [0, 30, 70, 100], "labelFlush": true, "labelOverlap": false, "labelBound": false}}}},
{"data": {"values": [{"i": 1.9, "r": 93, "t": "RSI(14) 41.6732"}]}, "mark": {"type": "text", "color": "#000000", "fontSize": 9.5, "font": "Liberation Sans", "align": "left"},
 "encoding": {
  "x": {"field": "i", "type": "quantitative", "scale": {"domain": [-0.75, 276.25], "nice": false, "zero": false},
        "axis": {"orient": "bottom", "values": [-0.25, 31.75, 63.75, 95.75, 127.75, 159.75, 191.75, 223.75, 255.75], "labelExpr": "['1 Mar 2017','8 Mar 16:00','16 Mar 00:00','23 Mar 08:00','30 Mar 16:00','7 Apr 00:00','14 Apr 08:00','21 Apr 16:00','1 May 00:00'][round((datum.value + 0.25) / 32)]", "labelAlign": "left", "labelFlush": false, "labelOverlap": false, "labelBound": false, "tickSize": 3, "labelPadding": 2}},
  "y": {"field": "r", "type": "quantitative", "scale": {"domain": [0, 100], "nice": false, "zero": false},
        "axis": {"orient": "right", "values": [0, 30, 70, 100], "labelFlush": true, "labelOverlap": false, "labelBound": false}},
  "text": {"field": "t"}}}
]
}
]
}
